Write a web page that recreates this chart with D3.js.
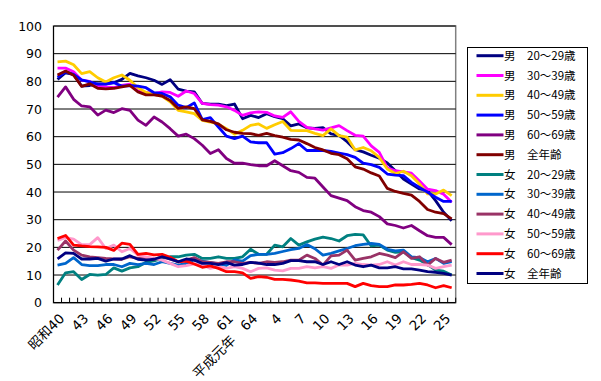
<!DOCTYPE html>
<html>
<head>
<meta charset="utf-8">
<script src="https://cdn.jsdelivr.net/npm/d3@7"></script>
<style>
  body { margin: 0; background: #fff; }
  svg { display: block; }
</style>
</head>
<body>
<svg id="chart" width="601" height="381"></svg>
<script>
// --- DATA ---
// years 昭和40 (1965) .. 平成26 (2014)
const years = d3.range(1965, 2015);
const tickLabels = ['昭和40', '43', '46', '49', '52', '55', '58', '61', '平成元年　64',
    '4', '7', '10', '13', '16', '19', '22', '25'];
const seriesNames = ['男　20～29歳', '男　30～39歳', '男　40～49歳', '男　50～59歳', '男　60～69歳', '男　全年齢',
    '女　20～29歳', '女　30～39歳', '女　40～49歳', '女　50～59歳', '女　60～69歳', '女　全年齢'];

const m20 = [80.7, 83.1, 82.5, 78.3, 78.5, 79.1, 79.1, 79.5, 80.7, 82.9, 82, 81.3, 80.4, 78.9, 80.6, 77.2, 76.5, 76.2, 72, 71.8,
    71.8, 71.2, 71.8, 66.5, 67.7, 66.9, 68.3, 67.2, 66.5, 63.9, 64.6, 63.2, 63, 63.3, 61, 60.5, 58.2, 55.3, 54.5, 53.3,
    52.2, 50.5, 47.7, 44.7, 42.9, 41.1, 40.5, 36.9, 32.7, 29.6];
const m30 = [84.8, 84.8, 83.5, 80.4, 80, 78.3, 78, 77.7, 78.5, 79, 76.5, 76, 75.6, 76.2, 76, 74.6, 76.5, 75.6, 72, 71.6,
    71.4, 70.8, 69.5, 67.7, 68.6, 69, 68.8, 67.5, 67, 69, 65.5, 63.4, 62.8, 62.4, 63.2, 64, 62.2, 60.5, 60.2, 56.7,
    54.3, 48.7, 47.7, 47.3, 46.8, 44, 41, 40.5, 39.2, 36.3];
const m40 = [87, 87.3, 86, 82.8, 83.5, 81.3, 79.8, 81.3, 82.3, 80.4, 77.7, 76, 75.3, 74.6, 72.6, 69.5, 69, 68.3, 65.9, 65.3,
    64.5, 62.9, 60.9, 62.3, 64.1, 64.6, 63, 64.3, 65.5, 62.3, 62.2, 62.2, 61.2, 60.4, 62.8, 60.4, 59.8, 55.2, 56.1, 54.9,
    52.5, 48.3, 46.7, 47.5, 45.9, 42.9, 39.3, 39.3, 40.7, 38.7];
const m50 = [81.5, 83.4, 82.5, 80.5, 79.8, 79, 79, 79.5, 78.3, 78.5, 78.3, 77.7, 75.9, 75.6, 74.4, 71.4, 70.5, 72.2, 66.2, 66.9,
    63.5, 60.2, 59.3, 60.2, 58.1, 57.8, 57.8, 53.7, 54.2, 55.7, 57.5, 55, 55, 55, 54.7, 54.1, 53.5, 52.5, 50.4, 49.9,
    48.9, 46.5, 46.1, 45.9, 43.5, 41.7, 39.9, 38.1, 36.6, 36.6];
const m60 = [74.3, 78, 73.5, 71.1, 70.8, 67.8, 69.6, 68.7, 70.1, 69.5, 66, 64.1, 67.1, 65.3, 62.9, 60.2, 60.9, 59.3, 56.9, 53.9,
    55.3, 52.1, 50.4, 50.4, 49.9, 49.5, 49.5, 51.3, 49.5, 47.7, 47.1, 45.3, 45, 41.8, 38.7, 37.8, 36.9, 34.7, 33.3, 32.7,
    31.1, 28.5, 27.9, 27, 27.9, 26, 24.2, 23.6, 23.6, 21];
const mAll = [82.3, 83.7, 82.2, 78.2, 79.1, 77.5, 77.3, 77.5, 78, 78.5, 76.2, 75.1, 75.1, 74.7, 73.1, 70.2, 70.8, 70.1, 66.1, 65.5,
    64.6, 62.5, 61.6, 61.2, 61.1, 60.5, 61.2, 60.4, 59.8, 59, 58.8, 57.5, 56.1, 55.2, 54, 53.5, 52, 49.1, 48.3, 46.9,
    45.8, 41.3, 40.2, 39.5, 38.9, 36.6, 33.7, 32.7, 32.2, 30.3];
const f20 = [6.4, 10.8, 11.2, 8.4, 10.2, 10, 10.2, 12.6, 11.4, 12.6, 13, 14.6, 15.1, 16, 16.6, 16.6, 17.2, 17.5, 16, 16,
    16.6, 16, 16, 16.6, 19.3, 17.5, 17.5, 20.8, 20.2, 23.2, 20.8, 22, 23, 23.7, 23.2, 22.3, 24.2, 24.7, 24.5, 20.5,
    20.8, 19, 18.2, 18.4, 16.3, 15.4, 13.8, 11.8, 11.4, 10];
const f30 = [13.6, 14.2, 16.3, 13.8, 13.4, 13.4, 13.8, 13.8, 13, 14.2, 13.8, 14.2, 13.8, 14.8, 14.2, 13.6, 14.2, 15.5, 15, 14.5,
    14, 13.5, 15.5, 15, 17, 17.5, 17.5, 17.8, 18.5, 19.2, 19.6, 21, 19.5, 17.2, 17.8, 18.7, 19.6, 20.6, 21.1, 21.4,
    21.1, 19.3, 18.7, 19, 16.6, 16.3, 14.8, 16, 14.2, 14.8];
const f40 = [19, 22.3, 19, 17.2, 16.6, 16.3, 16, 15.8, 15.7, 16.6, 16, 16, 15.7, 16.6, 15.7, 14.8, 15.4, 16.3, 14.8, 14.6,
    14.2, 14.8, 14.8, 14.2, 14.6, 14.2, 14.8, 14.6, 14.8, 15.4, 15.4, 17.2, 16, 13.6, 16.9, 17.2, 19, 15.4, 16, 16.6,
    17.8, 17.2, 16.3, 18.4, 16, 16.6, 13.6, 16, 14.6, 15.4];
const f50 = [22.5, 23.5, 23, 21, 21, 23.5, 19.6, 20.8, 18.4, 19.6, 17.2, 16.6, 16, 15.4, 14.2, 13, 13.4, 14, 13.6, 12.4,
    13, 12.4, 13, 12.4, 11.2, 12.4, 12.6, 11.8, 11.5, 12.4, 12.4, 13, 12.6, 13, 12.4, 13.6, 13.6, 14.2, 13.8, 13.6,
    13.8, 14.8, 13.6, 14.8, 13.8, 13.8, 13.6, 12.4, 13, 13.6];
const f60 = [23.2, 24.3, 20.8, 20.5, 20.3, 20.2, 20, 18.9, 21.5, 21.1, 17.5, 17.8, 17.3, 17.5, 16.4, 14.8, 15, 14, 12.8, 13.3,
    12.4, 11.2, 11.2, 10.8, 8.8, 9.4, 9.2, 8.4, 8.4, 8.2, 7.8, 7.2, 7.2, 7, 7, 7, 7, 5.8, 7, 6.2,
    5.8, 5.8, 6.4, 6.4, 6.6, 7, 6.4, 5.4, 6.2, 5.4];
const fAll = [15.8, 18, 17.8, 15.8, 15.8, 16, 15, 15.8, 15.8, 17, 15.7, 15.4, 15.7, 16.6, 15.8, 14.8, 15.8, 15.4, 14.2, 14.2,
    13.8, 14.5, 13.6, 13.8, 14.6, 14.3, 13.8, 13.8, 14.2, 15.2, 15.2, 14.8, 14.8, 13.8, 14.8, 13.8, 14.8, 13.6, 13, 13.6,
    12.6, 12.6, 13, 12.2, 12.2, 11.8, 11.2, 11, 10.6, 10];

const seriesValues = [m20, m30, m40, m50, m60, mAll, f20, f30, f40, f50, f60, fAll];
const colors = ['#000080', '#ff00ff', '#ffcc00', '#0000ff', '#800080', '#800000',
    '#008080', '#0066cc', '#993366', '#ff99cc', '#ff0000', '#000080'];

// --- SETUP ---
const svg = d3.select('#chart');
const plotLeft = 53.5, plotRight = 455.7, plotTop = 26, plotBottom = 302.7;

const x = d3.scaleBand().domain(years).range([plotLeft, plotRight]);
const y = d3.scaleLinear().domain([0, 100]).range([plotBottom, plotTop]);
const cx = d => x(d) + x.bandwidth() / 2;

const numFont = '"DejaVu Sans", "Noto Sans CJK JP", sans-serif';
const cjkFont = '"Noto Sans CJK JP", sans-serif';

// plot frame
svg.append('rect')
    .attr('x', plotLeft).attr('y', plotTop)
    .attr('width', plotRight - plotLeft).attr('height', plotBottom - plotTop)
    .attr('fill', 'none').attr('stroke', '#808080').attr('stroke-width', 1.5);

// gridlines
svg.append('g')
    .selectAll('line')
    .data(d3.range(10, 101, 10))
    .enter().append('line')
    .attr('x1', plotLeft).attr('x2', plotRight)
    .attr('y1', d => y(d)).attr('y2', d => y(d))
    .attr('stroke', '#000').attr('stroke-width', 1);

// y axis labels
svg.append('g')
    .selectAll('text')
    .data(d3.range(0, 101, 10))
    .enter().append('text')
    .attr('x', 42).attr('y', d => y(d))
    .attr('dy', '0.36em')
    .attr('text-anchor', 'end')
    .attr('font-family', numFont).attr('font-size', 12.5)
    .attr('fill', '#000')
    .text(d => d);

// --- LINES ---
const line = d3.line()
    .x((d, i) => cx(years[i]))
    .y(d => y(d));

svg.append('g')
    .selectAll('path')
    .data(seriesValues)
    .enter().append('path')
    .attr('d', d => line(d))
    .attr('fill', 'none')
    .attr('stroke', (d, i) => colors[i])
    .attr('stroke-width', 2.8)
    .attr('stroke-linejoin', 'round');

// axes
svg.append('line')
    .attr('x1', plotLeft).attr('x2', plotLeft).attr('y1', plotTop).attr('y2', plotBottom)
    .attr('stroke', '#000').attr('stroke-width', 1);
svg.append('line')
    .attr('x1', plotLeft).attr('x2', plotRight).attr('y1', plotBottom).attr('y2', plotBottom)
    .attr('stroke', '#000').attr('stroke-width', 1.2);

// category tick marks (inside, between categories)
svg.append('g')
    .selectAll('line')
    .data(years.concat([null]))
    .enter().append('line')
    .attr('x1', d => d === null ? plotRight : x(d))
    .attr('x2', d => d === null ? plotRight : x(d))
    .attr('y1', plotBottom).attr('y2', plotBottom - 5)
    .attr('stroke', '#000').attr('stroke-width', 1);

// x labels every 3 years
svg.append('g')
    .selectAll('text')
    .data(tickLabels)
    .enter().append('text')
    .attr('transform', (d, i) => `translate(${cx(years[i * 3]) + 1},${plotBottom + 10}) rotate(-45)`)
    .attr('text-anchor', 'end')
    .attr('dy', '0.7em')
    .attr('font-family', numFont).attr('font-size', 13.5)
    .attr('fill', '#000')
    .text(d => d);

// --- LEGEND ---
const legend = svg.append('g');
legend.append('rect')
    .attr('x', 467.5).attr('y', 47.5).attr('width', 120).attr('height', 236)
    .attr('fill', '#fff').attr('stroke', '#000').attr('stroke-width', 1);

const rows = legend.selectAll('g')
    .data(seriesNames)
    .enter().append('g')
    .attr('transform', (d, i) => `translate(0,${55.7 + i * 19.8})`);

rows.append('line')
    .attr('x1', 476.5).attr('x2', 503.5)
    .attr('stroke', (d, i) => colors[i])
    .attr('stroke-width', 3);

rows.append('text')
    .attr('x', 504).attr('dy', '0.36em')
    .attr('font-family', cjkFont).attr('font-size', 11.5)
    .attr('fill', '#000')
    .text(d => d);
</script>
</body>
</html>
